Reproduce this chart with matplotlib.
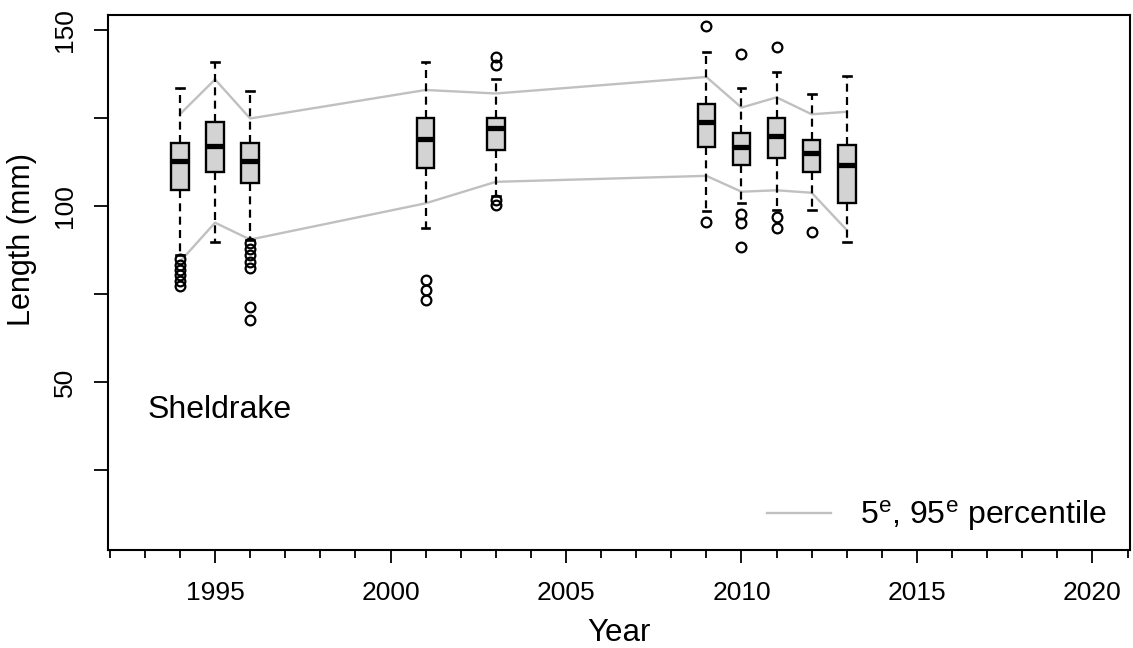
import matplotlib
matplotlib.use("Agg")
import matplotlib.pyplot as plt
from matplotlib.ticker import MultipleLocator, FixedLocator, NullFormatter
from matplotlib.lines import Line2D

plt.rcParams["font.family"] = ["Liberation Sans", "DejaVu Sans"]
plt.rcParams["mathtext.default"] = "regular"

# Sampling years and box statistics (mm)
years = [1994, 1995, 1996, 2001, 2003, 2009, 2010, 2011, 2012, 2013]
whisker_lo = [86.1, 89.9, 90.3, 93.7, 102.8, 98.7, 100.8, 98.9, 98.9, 89.9]
quart_1 = [104.7, 109.7, 106.6, 110.9, 115.9, 116.8, 111.6, 113.8, 109.6, 100.8]
median = [112.9, 117.0, 112.9, 119.0, 122.1, 123.9, 116.8, 119.9, 115.0, 111.8]
quart_3 = [117.8, 124.0, 117.8, 124.9, 124.9, 128.9, 120.8, 124.9, 118.9, 117.3]
whisker_hi = [133.5, 141.0, 132.8, 141.0, 136.0, 143.8, 133.7, 138.2, 131.8, 136.9]
outliers = [
    [84.9, 83.4, 81.8, 80.3, 78.7, 77.3],
    [],
    [89.5, 87.8, 86.1, 84.1, 82.4, 71.4, 67.6],
    [79.0, 76.1, 73.3],
    [142.4, 140.1, 101.7, 100.3],
    [151.1, 95.5],
    [143.1, 97.7, 95.3, 88.4],
    [145.3, 97.0, 93.7],
    [92.7],
    [],
]

# 5th and 95th percentiles per year
pct_5 = [84.2, 95.3, 90.5, 100.8, 106.9, 108.6, 104.1, 104.5, 103.8, 93.2]
pct_95 = [126.1, 136.0, 124.9, 133.0, 132.0, 136.7, 128.0, 130.9, 126.1, 126.8]

site = "Sheldrake"
x_label = "Year"
y_label = "Length (mm)"
legend_label = "5$^{e}$, 95$^{e}$ percentile"
x_major = [1995, 2000, 2005, 2010, 2015, 2020]
y_ticks = [25, 50, 75, 100, 125, 150]
y_labels = ["", "50", "", "100", "", "150"]

W, H = 1133, 648
fig = plt.figure(figsize=(W / 100, H / 100), dpi=100)
left, right, top, bottom = 108, 1130, 15, 550
ax = fig.add_axes([left / W, 1 - bottom / H, (right - left) / W, (bottom - top) / H])

stats = []
for i, yr in enumerate(years):
    stats.append(dict(med=median[i], q1=quart_1[i], q3=quart_3[i],
                      whislo=whisker_lo[i], whishi=whisker_hi[i],
                      fliers=outliers[i], label=str(yr)))

ax.bxp(stats, positions=years, widths=0.5, capwidths=0.22, patch_artist=True,
       manage_ticks=False,
       boxprops=dict(facecolor="#d3d3d3", edgecolor="black", linewidth=1.7),
       medianprops=dict(color="black", linewidth=3.8, solid_capstyle="butt"),
       whiskerprops=dict(color="black", linewidth=1.6, linestyle=(0, (3.6, 2.4))),
       capprops=dict(color="black", linewidth=1.9),
       flierprops=dict(marker="o", markersize=7, markerfacecolor="none",
                       markeredgecolor="black", markeredgewidth=1.6))

line_col = "#c0c0c0"
ax.plot(years, pct_95, color=line_col, linewidth=1.7, zorder=1)
ax.plot(years, pct_5, color=line_col, linewidth=1.7, zorder=1)

ax.set_xlim(1991.95, 2021.07)
ax.set_ylim(2.3, 154.3)

ax.xaxis.set_major_locator(FixedLocator(x_major))
ax.xaxis.set_minor_locator(MultipleLocator(1))
ax.xaxis.set_minor_formatter(NullFormatter())
ax.set_xticklabels([str(v) for v in x_major])
ax.set_yticks(y_ticks)
ax.set_yticklabels(y_labels, rotation=90, va="center")

ax.tick_params(axis="x", which="major", length=9.5, width=1.3, labelsize=19, pad=13)
ax.tick_params(axis="x", which="minor", length=5.5, width=1.3)
ax.tick_params(axis="y", which="major", length=10, width=1.3, labelsize=19, pad=12)
for s in ax.spines.values():
    s.set_linewidth(1.5)

ax.set_xlabel(x_label, fontsize=22.5, labelpad=9)
ax.set_ylabel(y_label, fontsize=22)
ax.yaxis.set_label_coords(-0.069, 0.58)

ax.text(1993.09, 42.0, site, fontsize=23, ha="left", va="center")

handle = Line2D([], [], color=line_col, linewidth=1.7)
ax.legend([handle], [legend_label], loc="lower right", frameon=False,
          fontsize=23, handlelength=2.0, handletextpad=0.9,
          borderaxespad=0.12, bbox_to_anchor=(0.9932, 0.0))

fig.savefig("out.png", dpi=100)
